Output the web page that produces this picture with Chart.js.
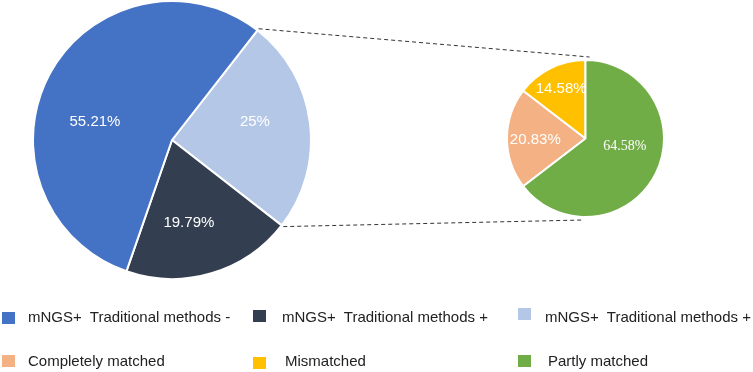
<!DOCTYPE html>
<html>
<head>
<meta charset="utf-8">
<script src="https://cdn.jsdelivr.net/npm/chart.js@4/dist/chart.umd.min.js"></script>
<style>
    html, body { margin: 0; padding: 0; background: #fff; }
    #stage { position: relative; width: 753px; height: 372px; overflow: hidden; font-family: "Liberation Sans", Arial, sans-serif; }
    .box { position: absolute; }
    #bigBox { left: 32px; top: 0; width: 280px; height: 280px; }
    #smallBox { left: 506px; top: 59px; width: 159px; height: 159px; }
    #links { position: absolute; left: 0; top: 0; pointer-events: none; }
    .item { position: absolute; font-size: 15px; color: #222; white-space: pre; line-height: 16px; }
    .swatch { position: absolute; width: 13px; height: 12px; }
</style>
</head>
<body>
<div id="stage">
    <div class="box" id="bigBox"><canvas id="bigPie" width="280" height="280"></canvas></div>
    <div class="box" id="smallBox"><canvas id="smallPie" width="159" height="159"></canvas></div>
    <canvas id="links" width="753" height="372"></canvas>
    <div id="legend"></div>
</div>
<script>
// Main pie (legend order)
const bigLabels = ['mNGS+  Traditional methods -', 'mNGS+  Traditional methods +', 'mNGS+  Traditional methods +'];
const bigValues = [55.21, 19.79, 25];
const bigText = ['55.21%', '19.79%', '25%'];

// Breakdown pie (legend order)
const smallLabels = ['Completely matched', 'Mismatched', 'Partly matched'];
const smallValues = [20.83, 14.58, 64.58];
const smallText = ['20.83%', '14.58%', '64.58%'];

const bigColors = ['#4472C4', '#333F50', '#B4C7E7'];
const smallColors = ['#F4B183', '#FFC000', '#70AD47'];

// label placement tweaks: angle shift (deg) and fraction of radius
const bigLabelPos = [{da: -15, f: 0.57}, {da: 5, f: 0.61}, {da: -5, f: 0.61}];
const smallLabelPos = [{da: -2, f: 0.64}, {da: 0, f: 0.70}, {da: -14.6, f: 0.51}];
const sansFont = '15px "Liberation Sans", Arial';
const smallFonts = [sansFont, sansFont, '14px "Liberation Serif", "Times New Roman", serif'];

// Draw percentage text inside each slice
const sliceLabels = {
    id: 'sliceLabels',
    afterDatasetsDraw(chart, args, opts) {
        const ctx = chart.ctx;
        const meta = chart.getDatasetMeta(0);
        ctx.save();
        ctx.fillStyle = '#fff';
        ctx.textAlign = 'center';
        ctx.textBaseline = 'middle';
        meta.data.forEach((arc, i) => {
            const k = opts.order[i];
            const p = opts.pos[k];
            const mid = (arc.startAngle + arc.endAngle) / 2 + p.da * Math.PI / 180;
            const r = arc.outerRadius * p.f;
            ctx.font = opts.fonts[k];
            ctx.fillText(opts.text[k], arc.x + r * Math.cos(mid), arc.y + r * Math.sin(mid));
        });
        ctx.restore();
    }
};

function makePie(id, values, colors, rotation, labelOpts) {
    return new Chart(document.getElementById(id), {
        type: 'pie',
        data: {
            labels: labelOpts.order.map(i => labelOpts.names[i]),
            datasets: [{
                data: values,
                backgroundColor: colors,
                borderColor: '#fff',
                borderWidth: 2
            }]
        },
        options: {
            responsive: false,
            animation: false,
            events: [],
            rotation: rotation,
            plugins: {
                legend: { display: false },
                tooltip: { enabled: false },
                sliceLabels: labelOpts
            }
        },
        plugins: [sliceLabels]
    });
}

// big pie runs clockwise in reverse legend order, "+" slice first
const bigOrder = [2, 1, 0];
const bigChart = makePie('bigPie',
    bigOrder.map(i => bigValues[i]),
    bigOrder.map(i => bigColors[i]),
    37.9,
    { order: bigOrder, names: bigLabels, text: bigText, pos: bigLabelPos, fonts: bigText.map(() => sansFont) });

// small pie starts where "Partly matched" ends at 12 o'clock
const smallOrder = [0, 1, 2];
const smallChart = makePie('smallPie',
    smallOrder.map(i => smallValues[i]),
    smallOrder.map(i => smallColors[i]),
    360 * smallValues[2] / 100,
    { order: smallOrder, names: smallLabels, text: smallText, pos: smallLabelPos, fonts: smallFonts });

// dashed connector lines between the "+" slice and the breakdown pie
function drawLinks() {
    const c = document.getElementById('links');
    const ctx = c.getContext('2d');
    const bb = document.getElementById('bigBox');
    const sb = document.getElementById('smallBox');
    const arc = bigChart.getDatasetMeta(0).data[0];
    const s = smallChart.getDatasetMeta(0).data[0];
    const bx = bb.offsetLeft + arc.x, by = bb.offsetTop + arc.y;
    const sx = sb.offsetLeft + s.x, sy = sb.offsetTop + s.y;
    const R = arc.outerRadius + 2, r = s.outerRadius + 3;
    ctx.strokeStyle = '#333';
    ctx.lineWidth = 1;
    ctx.setLineDash([4, 3]);
    ctx.beginPath();
    ctx.moveTo(bx + R * Math.cos(arc.startAngle), by + R * Math.sin(arc.startAngle));
    ctx.lineTo(sx + 4, sy - r);
    ctx.moveTo(bx + R * Math.cos(arc.endAngle), by + R * Math.sin(arc.endAngle));
    ctx.lineTo(sx - 2, sy + r);
    ctx.stroke();
}
drawLinks();

// legend grid: row 1 big pie, row 2 small pie
const legendSpots = [
    [{sx: 2, sy: 312, tx: 28, ty: 309}, {sx: 253, sy: 310, tx: 282, ty: 309}, {sx: 518, sy: 308, tx: 545, ty: 309}],
    [{sx: 2, sy: 355, tx: 28, ty: 353}, {sx: 253, sy: 357, tx: 285, ty: 353}, {sx: 518, sy: 355, tx: 548, ty: 353}]
];
function buildLegend() {
    const legend = document.getElementById('legend');
    const rows = [[bigLabels, bigColors], [smallLabels, smallColors]];
    rows.forEach(([names, colors], r) => {
        names.forEach((name, i) => {
            const spot = legendSpots[r][i];
            const sw = document.createElement('div');
            sw.className = 'swatch';
            sw.style.left = spot.sx + 'px';
            sw.style.top = spot.sy + 'px';
            sw.style.background = colors[i];
            legend.appendChild(sw);
            const t = document.createElement('div');
            t.className = 'item';
            t.style.left = spot.tx + 'px';
            t.style.top = spot.ty + 'px';
            t.textContent = name;
            legend.appendChild(t);
        });
    });
}
buildLegend();
</script>
</body>
</html>
